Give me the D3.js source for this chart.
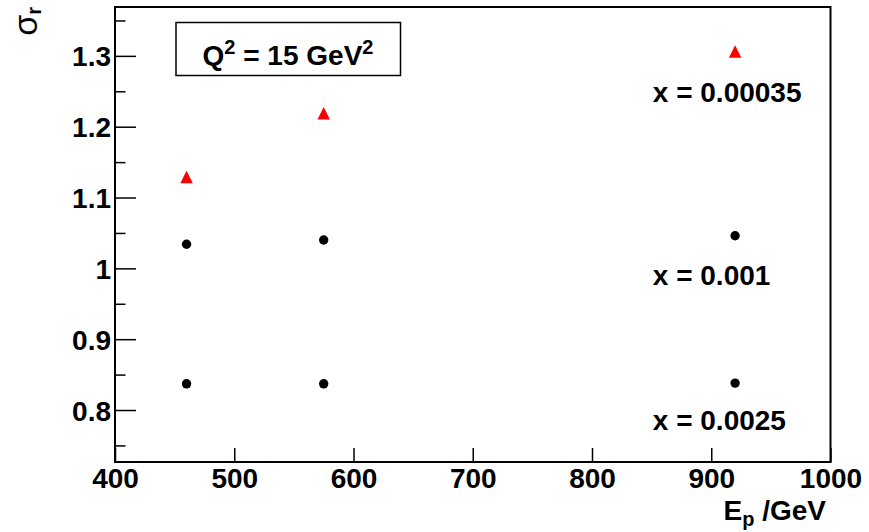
<!DOCTYPE html>
<html>
<head>
<meta charset="utf-8">
<script src="https://cdn.jsdelivr.net/npm/d3@7"></script>
<style>
    html, body { margin: 0; padding: 0; background: #fff; }
    svg { display: block; }
    text { font-family: 'Liberation Sans', Arial, Helvetica, sans-serif; font-weight: bold; fill: #000; }
</style>
</head>
<body>
<div id="chart"></div>
<script>
(function () {
    'use strict';

    // Data
    const beamEnergy = [460, 575, 920];           // E_p in GeV
    const sigmaX00035 = [1.129, 1.219, 1.306];     // red triangles
    const sigmaX001 = [1.034, 1.040, 1.046];       // black dots
    const sigmaX0025 = [0.837, 0.837, 0.838];      // black dots

    const xTicks = [400, 500, 600, 700, 800, 900, 1000];
    const yTicks = [0.8, 0.9, 1, 1.1, 1.2, 1.3];
    const yMinorTicks = [0.75, 0.85, 0.95, 1.05, 1.15, 1.25, 1.35];

    // Series labels, anchored in data coordinates
    const seriesLabels = [
        { text: 'x = 0.00035', ep: 851, sigma: 1.2346 },
        { text: 'x = 0.001', ep: 851, sigma: 0.976 },
        { text: 'x = 0.0025', ep: 851, sigma: 0.7715 }
    ];

    // Layout
    const CONFIG = {
        width: 869,
        height: 532,
        frame: { left: 115, right: 830.5, top: 7, bottom: 462 },
        xDomain: [400, 1000],
        yDomain: [0.7266, 1.369],
        fontSize: 28
    };

    const svg = d3.select('#chart')
        .append('svg')
        .attr('width', CONFIG.width)
        .attr('height', CONFIG.height);

    const f = CONFIG.frame;
    const x = d3.scaleLinear().domain(CONFIG.xDomain).range([f.left, f.right]);
    const y = d3.scaleLinear().domain(CONFIG.yDomain).range([f.bottom, f.top]);

    // Y axis: major ticks (inward) with labels
    const yAxis = svg.append('g')
        .attr('transform', `translate(${f.left},0)`)
        .call(d3.axisLeft(y)
            .tickValues(yTicks)
            .tickSize(-21)
            .tickPadding(4)
            .tickFormat(d => String(+d.toFixed(1))));
    yAxis.select('.domain').remove();
    yAxis.selectAll('line').attr('stroke', '#000').attr('stroke-width', 1.5);
    yAxis.selectAll('text')
        .attr('font-size', CONFIG.fontSize)
        .attr('dy', '0.36em')
        .style('font-family', null);

    // Y minor ticks
    const yMinor = svg.append('g')
        .attr('transform', `translate(${f.left},0)`)
        .call(d3.axisLeft(y).tickValues(yMinorTicks).tickSize(-10.5).tickFormat(''));
    yMinor.select('.domain').remove();
    yMinor.selectAll('line').attr('stroke', '#000').attr('stroke-width', 1.5);

    // X axis
    const xAxis = svg.append('g')
        .attr('transform', `translate(0,${f.bottom})`)
        .call(d3.axisBottom(x)
            .tickValues(xTicks)
            .tickSize(-14)
            .tickPadding(6)
            .tickFormat(d3.format('d')));
    xAxis.select('.domain').remove();
    xAxis.selectAll('line').attr('stroke', '#000').attr('stroke-width', 1.5);
    xAxis.selectAll('text')
        .attr('font-size', CONFIG.fontSize)
        .style('font-family', null);

    // Frame
    svg.append('rect')
        .attr('x', f.left)
        .attr('y', f.top)
        .attr('width', f.right - f.left)
        .attr('height', f.bottom - f.top)
        .attr('fill', 'none')
        .attr('stroke', '#000')
        .attr('stroke-width', 2);

    // Axis titles
    const xTitle = svg.append('text')
        .attr('x', 826)
        .attr('y', 520)
        .attr('text-anchor', 'end')
        .attr('font-size', CONFIG.fontSize);
    xTitle.append('tspan').text('E');
    xTitle.append('tspan').attr('font-size', 20).attr('dy', 6).text('p');
    xTitle.append('tspan').attr('dy', -6).text(' /GeV');

    const yTitle = svg.append('text')
        .attr('transform', 'translate(37,7) rotate(-90)')
        .attr('text-anchor', 'end')
        .attr('font-size', 34)
        .style('font-weight', 'normal');
    yTitle.append('tspan').text('σ');
    yTitle.append('tspan').attr('font-size', 20).attr('dy', 4).style('font-weight', 'bold').text('r');

    // Q^2 box
    svg.append('rect')
        .attr('x', 176)
        .attr('y', 22.5)
        .attr('width', 224.5)
        .attr('height', 53)
        .attr('fill', '#fff')
        .attr('stroke', '#000')
        .attr('stroke-width', 1.5);

    const qText = svg.append('text')
        .attr('x', 288)
        .attr('y', 65)
        .attr('text-anchor', 'middle')
        .attr('font-size', CONFIG.fontSize);
    qText.append('tspan').text('Q');
    qText.append('tspan').attr('font-size', 20).attr('dy', -11).text('2');
    qText.append('tspan').attr('dy', 11).text(' = 15 GeV');
    qText.append('tspan').attr('font-size', 20).attr('dy', -11).text('2');

    // Markers
    // Triangle centred on its bounding box, like ROOT's marker 22
    const triangle = {
        draw(context, size) {
            const h = Math.sqrt(size);
            context.moveTo(0, -h / 2);
            context.lineTo(h / 2, h / 2);
            context.lineTo(-h / 2, h / 2);
            context.closePath();
        }
    };

    const pts = (vals) => beamEnergy.map((e, i) => ({ ep: e, sigma: vals[i] }));

    svg.append('g')
        .selectAll('path')
        .data(pts(sigmaX00035))
        .enter()
        .append('path')
        .attr('d', d3.symbol(triangle, 12.5 * 12.5))
        .attr('transform', d => `translate(${x(d.ep)},${y(d.sigma)})`)
        .attr('fill', '#ff0000');

    [sigmaX001, sigmaX0025].forEach(vals => {
        svg.append('g')
            .selectAll('circle')
            .data(pts(vals))
            .enter()
            .append('circle')
            .attr('cx', d => x(d.ep))
            .attr('cy', d => y(d.sigma))
            .attr('r', 4.7)
            .attr('fill', '#000');
    });

    // Series labels
    svg.append('g')
        .selectAll('text')
        .data(seriesLabels)
        .enter()
        .append('text')
        .attr('x', d => x(d.ep))
        .attr('y', d => y(d.sigma))
        .attr('font-size', CONFIG.fontSize)
        .text(d => d.text);
})();
</script>
</body>
</html>
